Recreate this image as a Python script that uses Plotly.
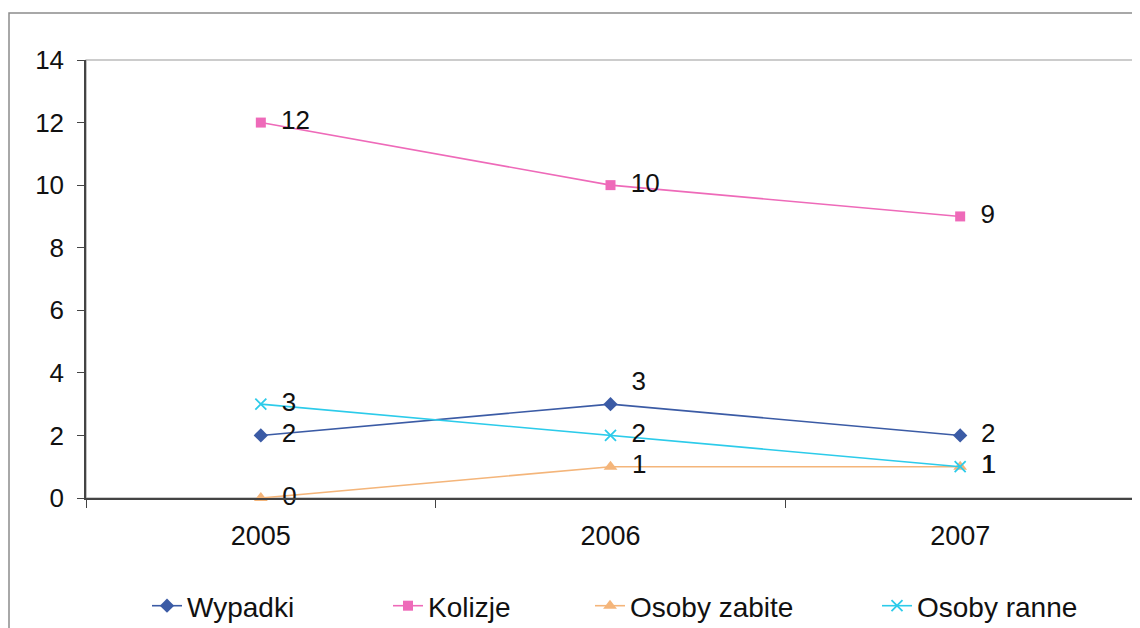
import plotly.graph_objects as go

years = ["2005", "2006", "2007"]
wypadki = [2, 3, 2]
kolizje = [12, 10, 9]
osoby_zabite = [0, 1, 1]
osoby_ranne = [3, 2, 1]

series = [
    ("Wypadki", wypadki, "#3B5BA5", "diamond", 11, ["middle right", "top right", "middle right"]),
    ("Kolizje", kolizje, "#EE6AB9", "square", 10, ["middle right"] * 3),
    ("Osoby zabite", osoby_zabite, "#F4B57A", "triangle-up", 12, ["middle right"] * 3),
    ("Osoby ranne", osoby_ranne, "#2CCBEA", "x-thin", 11, ["middle right"] * 3),
]

FONT = "Liberation Sans, Arial, sans-serif"
OFF = 8  # page body margin offset
W, H = 1132, 620
# plot area in reference (screen) pixels
SX0, SX1, SY0, SY1 = 86, 1135, 60, 498
L = SX0 - OFF
R = W - (SX1 - OFF)
T = SY0 - OFF
B = H - (SY1 - OFF)
pw = W - L - R
ph = H - T - B

def px_x(p):
    return (p - OFF - L) / pw

def px_y(p):
    return (H - B - (p - OFF)) / ph

legend_text_x = [187, 428, 630, 917]
legend_y = 606

fig = go.Figure()
for i, (name, vals, color, sym, size, tpos) in enumerate(series):
    fig.add_trace(go.Scatter(
        x=years, y=vals, name=name,
        mode="lines+markers+text",
        line=dict(color=color, width=1.6),
        marker=dict(symbol=sym, size=size, color=color,
                    line=dict(color=color, width=1.8 if sym == "x-thin" else 0)),
        text=[f"\u2002{v}" for v in vals],
        textposition=tpos,
        textfont=dict(family=FONT, size=26, color="#111111"),
        cliponaxis=False,
        legend="legend" if i == 0 else f"legend{i+1}",
    ))

legend_common = dict(
    orientation="h", yanchor="middle", xanchor="left",
    font=dict(family=FONT, size=28, color="#111111"),
    bgcolor="rgba(0,0,0,0)",
)
legends = {}
for i, tx in enumerate(legend_text_x):
    key = "legend" if i == 0 else f"legend{i+1}"
    legends[key] = dict(legend_common, x=px_x(tx - 40), y=px_y(legend_y))

fig.update_layout(
    width=W, height=H,
    margin=dict(l=L, r=R, t=T, b=B, autoexpand=False),
    paper_bgcolor="white", plot_bgcolor="white",
    showlegend=True,
    **legends,
    xaxis=dict(
        type="category", range=[-0.5, 2.5], automargin=False,
        showline=True, linecolor="#444444", linewidth=1.5,
        ticks="outside", tickson="boundaries", ticklen=8, tickcolor="#444444",
        showgrid=False, zeroline=False,
        tickfont=dict(family=FONT, size=27, color="#111111"),
        ticklabelstandoff=13,
    ),
    yaxis=dict(
        range=[0, 14], dtick=2, tick0=0, automargin=False,
        showline=True, linecolor="#444444", linewidth=1.5,
        ticks="outside", ticklen=7, tickcolor="#444444",
        showgrid=False, zeroline=False,
        tickfont=dict(family=FONT, size=26, color="#111111"),
        ticklabelstandoff=8,
    ),
    shapes=[
        dict(type="rect", xref="paper", yref="paper", x0=0, x1=1, y0=0, y1=1,
             line=dict(color="#9a9a9a", width=1.2), layer="below"),
        dict(type="rect", xref="paper", yref="paper",
             x0=px_x(9), x1=px_x(1160), y0=px_y(660), y1=px_y(13),
             line=dict(color="#8c8c8c", width=1.5), layer="below"),
    ],
)

fig.write_html("out.html")
